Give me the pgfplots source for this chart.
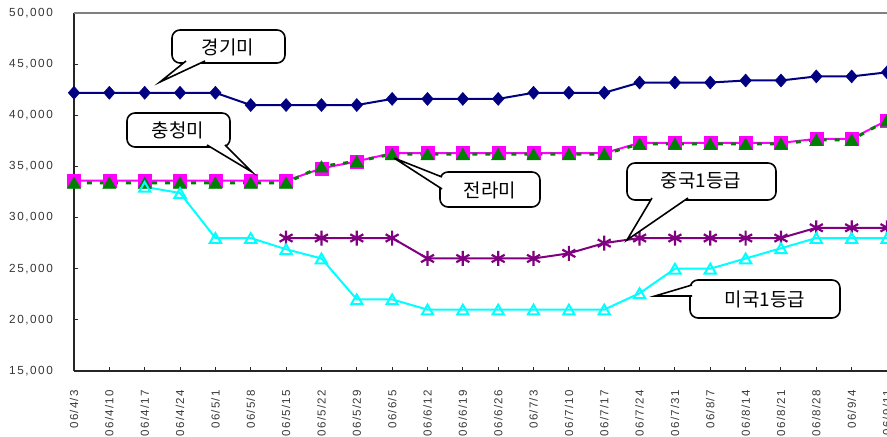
\documentclass[border=0pt]{standalone}
\usepackage{fontspec}
\usepackage{pgfplots}
\usepackage{pgfplotstable}
\pgfplotsset{compat=1.18}
\setmainfont{Liberation Sans}
\newfontfamily\kr{Noto Sans CJK KR}
\newfontfamily\tfx[LetterSpace=11]{Liberation Sans}
\newfontfamily\tfy[LetterSpace=13]{Liberation Sans}
\definecolor{cnavy}{RGB}{0,0,128}
\definecolor{cmag}{RGB}{255,0,255}
\definecolor{cgreen}{RGB}{0,128,0}
\definecolor{ccyan}{RGB}{0,255,255}
\definecolor{cpurple}{RGB}{128,0,128}
\definecolor{tickgray}{RGB}{55,55,55}

\pgfplotstableread{
idx g c j z m
0 42200 33600 33400 nan nan
1 42200 33600 33400 nan nan
2 42200 33600 33400 nan 33000
3 42200 33600 33400 nan 32400
4 42200 33600 33400 nan 28000
5 41000 33600 33400 nan 28000
6 41000 33600 33400 28000 26900
7 41000 34800 35000 28000 26000
8 41000 35500 35500 28000 22000
9 41600 36300 36200 28000 22000
10 41600 36300 36200 26000 21000
11 41600 36300 36200 26000 21000
12 41600 36300 36200 26000 21000
13 42200 36300 36200 26000 21000
14 42200 36300 36200 26500 21000
15 42200 36300 36200 27500 21000
16 43200 37300 37200 28000 22600
17 43200 37300 37200 28000 25000
18 43200 37300 37200 28000 25000
19 43400 37300 37200 28000 26000
20 43400 37300 37200 28000 27000
21 43800 37700 37600 29000 28000
22 43800 37700 37600 29000 28000
23 44200 39500 39500 29000 28000
}\data

\newcommand\callout[5]{%
  \draw[fill=white, line width=1.6, rounded corners=8] #1 rectangle #2;
  \fill[white] #3 -- #5 -- #4 -- cycle;
  \draw[line width=1.6, line join=miter] #3 -- #5 -- #4;
}

\begin{document}
\begin{tikzpicture}
\begin{axis}[name=ax,
  scale only axis, width=813bp, height=358bp,
  xmin=0, xmax=23, ymin=15000, ymax=50000,
  clip=false,
  axis x line*=bottom, axis y line*=left,
  axis line style={-, line width=2bp, draw=black!85},
  tick align=inside, major tick length=4bp,
  tick style={line width=1bp, draw=black!85},
  xtick={0,...,23},
  xticklabels={06/4/3,06/4/10,06/4/17,06/4/24,06/5/1,06/5/8,06/5/15,06/5/22,06/5/29,06/6/5,06/6/12,06/6/19,06/6/26,06/7/3,06/7/10,06/7/17,06/7/24,06/7/31,06/8/7,06/8/14,06/8/21,06/8/28,06/9/4,06/9/11},
  ytick={15000,20000,...,50000},
  scaled y ticks=false,
  /pgf/number format/1000 sep={,},
  /pgf/number format/assume math mode=true,
  xticklabel style={rotate=90, anchor=east, inner sep=0pt, font=\tfx\fontsize{11.6}{13}\selectfont, text=tickgray},
  yticklabel style={anchor=east, inner sep=0pt, font=\tfy\fontsize{11.8}{13}\selectfont, text=tickgray},
  xticklabel shift=19bp,
  yticklabel shift=21bp,
]
\draw[line width=2bp, draw=gray] (rel axis cs:0,1) -- (rel axis cs:1,1);
\addplot[cnavy, line width=2bp, mark=diamond*, mark size=6.5bp, mark options={fill=cnavy, draw=cnavy, line width=0.5bp, xscale=1.18}] table[x=idx, y=g]{\data};
\addplot[cmag, line width=2bp, mark=square*, mark size=6.5bp, mark options={fill=cmag, draw=cmag, line width=0.3bp}] table[x=idx, y=c]{\data};
\addplot[cgreen, line width=3bp, dash pattern=on 5bp off 8bp, mark=triangle*, mark size=7.8bp, mark options={solid, fill=cgreen, draw=cgreen, line width=0.3bp, yshift=-1.9bp}] table[x=idx, y=j]{\data};
\addplot[cpurple, line width=2bp, mark=asterisk, mark size=7.5bp, mark options={solid, draw=cpurple, line width=2.2bp}] table[x=idx, y=z]{\data};
\addplot[ccyan, line width=2bp, mark=triangle, mark size=6.5bp, mark options={solid, fill=white, draw=ccyan, line width=2bp, yshift=-1.6bp}] table[x=idx, y=m]{\data};
\end{axis}
\begin{scope}[x=1bp, y=-1bp, shift={(ax.south west)}, shift={(-74,-371)}]
  \pgfresetboundingbox
  \path[use as bounding box] (0,0) rectangle (887,437);
  \callout{(172,30)}{(285,63)}{(186,61)}{(205,61)}{(160,82)}
  \node[font=\kr\fontsize{19}{22}\selectfont] at (228,47) {경기미};
  \callout{(127,113)}{(230,147)}{(207,145)}{(225,145)}{(252,172)}
  \node[font=\kr\fontsize{19}{22}\selectfont] at (178,130) {충청미};
  \callout{(440,172)}{(540,207)}{(442,177)}{(442,189)}{(394,158)}
  \node[font=\kr\fontsize{19}{22}\selectfont] at (490,190) {전라미};
  \callout{(627,163)}{(776,200)}{(652,198)}{(688,198)}{(627,240)}
  \node[font=\kr\fontsize{19}{22}\selectfont] at (701,181) {중국1등급};
  \callout{(690,280)}{(840,318)}{(692,285)}{(692,296)}{(655,296)}
  \node[font=\kr\fontsize{19}{22}\selectfont] at (765,299) {미국1등급};
\end{scope}
\end{tikzpicture}
\end{document}
